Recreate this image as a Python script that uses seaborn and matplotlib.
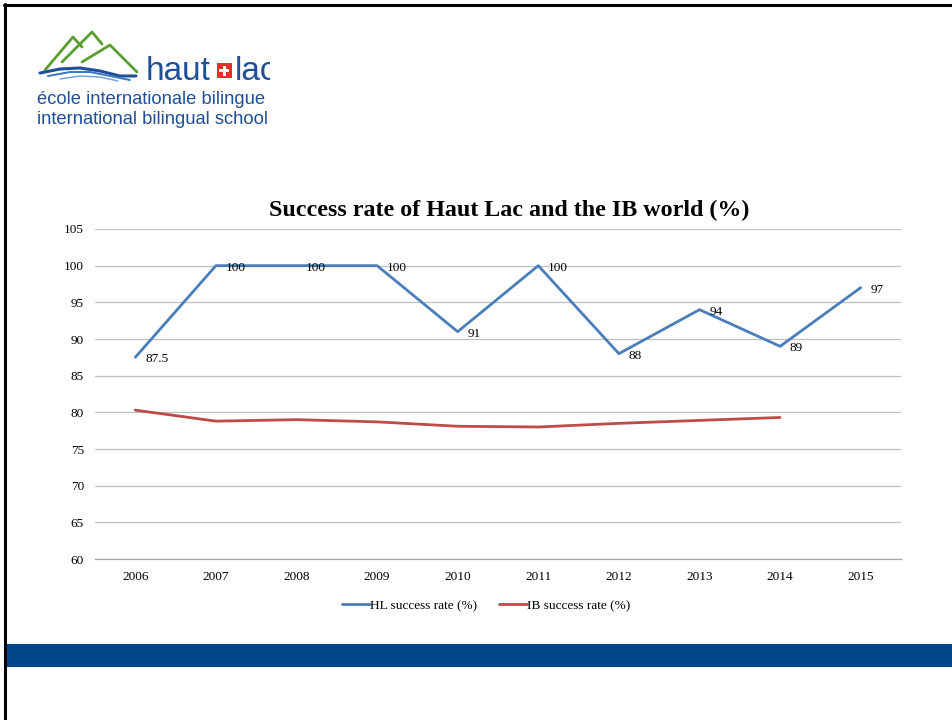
import matplotlib
matplotlib.use("Agg")
import matplotlib.pyplot as plt
import seaborn as sns
import pandas as pd
from matplotlib.patches import Rectangle
from matplotlib.lines import Line2D

years = ["2006", "2007", "2008", "2009", "2010", "2011", "2012", "2013", "2014", "2015"]
hl_rate = [87.5, 100, 100, 100, 91, 100, 88, 94, 89, 97]
ib_years = ["2006", "2007", "2008", "2009", "2010", "2011", "2012", "2013", "2014"]
ib_rate = [80.3, 78.8, 79.0, 78.7, 78.1, 78.0, 78.5, 78.9, 79.3]
series_names = ["HL success rate (%)", "IB success rate (%)"]
title = "Success rate of Haut Lac and the IB world (%)"
y_ticks = [60, 65, 70, 75, 80, 85, 90, 95, 100, 105]

sns.set_theme(style="white")
plt.rcParams["font.family"] = ["Liberation Serif", "DejaVu Serif"]

W, H = 953, 720
fig = plt.figure(figsize=(W / 100, H / 100), dpi=100)

df = pd.concat([
    pd.DataFrame({"year": years, "rate": hl_rate, "series": series_names[0]}),
    pd.DataFrame({"year": ib_years, "rate": ib_rate, "series": series_names[1]}),
])

ax = fig.add_axes([95 / W, 161 / H, 806 / W, 330 / H])
sns.lineplot(data=df, x="year", y="rate", hue="series", sort=False,
             palette=["#4a7ebb", "#be4b48"], linewidth=2.0, ax=ax, legend=True)

ax.set_xlim(-0.5, len(years) - 0.5)
ax.set_ylim(60, 105)
ax.set_yticks(y_ticks)
ax.set_yticklabels([str(v) for v in y_ticks], fontsize=9.5)
ax.set_xticks(range(len(years)))
ax.set_xticklabels(years, fontsize=9.5)
ax.set_xlabel("")
ax.set_ylabel("")
ax.grid(axis="y", color="#bfbfbf", linewidth=0.9)
ax.set_axisbelow(True)
for s in ["top", "right", "left"]:
    ax.spines[s].set_visible(False)
ax.spines["bottom"].set_color("#a6a6a6")
ax.spines["bottom"].set_linewidth(0.9)
ax.tick_params(axis="y", length=3, color="#bfbfbf", pad=5)
ax.tick_params(axis="x", length=0, pad=9)
for lbl in ax.get_yticklabels() + ax.get_xticklabels():
    lbl.set_color("black")

for i, v in enumerate(hl_rate):
    txt = ("%g" % v)
    ax.annotate(txt, (i, v), xytext=(7, -1.5), textcoords="offset points",
                ha="left", va="center", fontsize=9.5, color="black")

leg = ax.legend(loc="upper center", bbox_to_anchor=(0.485, -0.087), ncol=2,
                frameon=False, fontsize=9.5, handlelength=2.1, columnspacing=1.7,
                handletextpad=0.0)
for t in leg.get_texts():
    t.set_color("black")

fig.text(509 / W, 1 - 210 / H, title, ha="center", va="center",
         fontsize=17.3, fontweight="bold", color="black")

# overlay for slide decorations in pixel coordinates
ov = fig.add_axes([0, 0, 1, 1], zorder=-1)
ov.set_xlim(0, W)
ov.set_ylim(H, 0)
ov.axis("off")
ov.add_patch(Rectangle((5, 644), W, 23, color="#00468b", lw=0))
ov.add_line(Line2D([5, 5], [4, H], color="black", lw=2.2))
ov.add_line(Line2D([4, W], [5, 5], color="black", lw=2.2))

# logo
lg = fig.add_axes([30 / W, 1 - 130 / H, 240 / W, 105 / H])
lg.set_xlim(30, 270)
lg.set_ylim(130, 25)
lg.axis("off")
green = "#5a9e2f"
blue = "#1f4f97"
lg.plot([45, 73, 82], [70, 37, 47], color=green, lw=2.0, solid_capstyle="round")
lg.plot([62, 92, 102], [62, 32, 44], color=green, lw=2.0, solid_capstyle="round")
lg.plot([82, 110, 137], [62, 45, 72], color=green, lw=2.0, solid_capstyle="round")
lg.plot([40, 60, 80, 100, 120, 136], [73, 69, 68, 71, 76, 76], color=blue, lw=2.2)
lg.plot([48, 70, 90, 110, 130], [76, 72, 72, 76, 80], color="#3a77c0", lw=1.4)
lg.plot([60, 80, 100, 118], [79, 76, 77, 81], color="#6a9fd8", lw=1.0)
lg.text(146, 80, "haut", fontsize=24, color=blue, family="Liberation Sans",
        ha="left", va="baseline", clip_on=True)
lg.add_patch(Rectangle((217, 63), 15, 15, color="#e2312b", lw=0))
lg.add_patch(Rectangle((223, 65.5), 3, 10, color="white", lw=0))
lg.add_patch(Rectangle((219.5, 69), 10, 3, color="white", lw=0))
lg.text(235, 80, "lac", fontsize=24, color=blue, family="Liberation Sans",
        ha="left", va="baseline", clip_on=True)
lg.text(37, 104, "école internationale bilingue", fontsize=13.2, color=blue,
        family="Liberation Sans", ha="left", va="baseline", clip_on=True)
lg.text(37, 124, "international bilingual school", fontsize=13.2, color=blue,
        family="Liberation Sans", ha="left", va="baseline", clip_on=True)

fig.savefig("out.png", dpi=100)
